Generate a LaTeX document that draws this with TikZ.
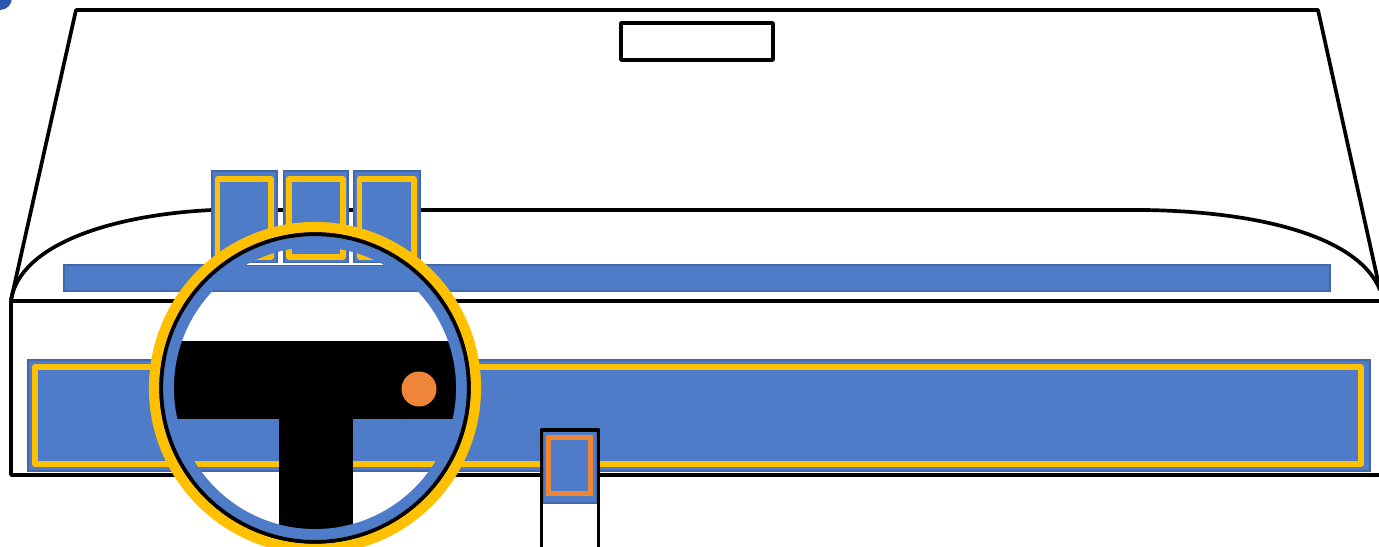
\documentclass[tikz,border=0pt]{standalone}
\usepackage{xcolor}
\definecolor{dashBlue}{RGB}{78, 124, 201}
\definecolor{dashEdge}{RGB}{66, 104, 170}
\definecolor{dashYellow}{RGB}{255, 192, 0}
\definecolor{dashOrange}{RGB}{238, 133, 56}
\definecolor{dashCorner}{RGB}{43, 87, 176}
\begin{document}
\begin{tikzpicture}[x=0.02cm, y=-0.02cm,
          outline/.style={draw=black, line width=2.1pt, line join=round},
          panel/.style={draw=dashEdge, line width=0.6pt, fill=dashBlue},
          trim/.style={draw=dashYellow, line width=2.9pt, line join=round},
          trimo/.style={draw=dashOrange, line width=2.9pt}]
        \clip (0,0) rectangle (1379,547);
        \fill[white] (0,0) rectangle (1379,547);
        \fill[dashCorner] (0,-2) circle (12);
        \draw[outline] (11,300) -- (76,10) -- (1318,10) -- (1380,290);
        \draw[outline] (621,23) rectangle (773,60);
        \draw[outline] (11,300) .. controls (20,245) and (110,215) .. (212,210)
                       -- (1145,210) .. controls (1270,212) and (1360,240) .. (1380,290);
        \draw[outline] (1380,301) -- (11,301) -- (11,475) -- (1380,475);
        \draw[panel] (64,265) rectangle (1330,291);
        \draw[panel] (212,171) rectangle (277,263);
        \draw[panel] (284,171) rectangle (348,263);
        \draw[panel] (354,171) rectangle (420,263);
        \draw[trim] (217.5,179) rectangle (271,257);
        \draw[trim] (289,179) rectangle (343,257);
        \draw[trim] (359.5,179) rectangle (414,257);
        \draw[panel] (28,360) rectangle (1370,471);
        \draw[trim] (35,367) rectangle (1361,464);
        \fill[white] (542,430) rectangle (598,547);
        \draw[panel] (543,431) rectangle (597,503);
        \draw[trimo] (548.5,437.5) rectangle (590.5,493.5);
        \draw[outline] (541.5,547) -- (541.5,430) -- (598.5,430) -- (598.5,547);
        \begin{scope}
          \clip (315,388) circle (150);
          \draw[white, line width=0.9pt] (150,264) -- (480,264);
          \fill[white] (150,292) rectangle (480,360);
          \fill[white] (150,472) rectangle (480,547);
          \fill[black] (150,341) rectangle (480,418.5);
          \fill[black] (279,418) rectangle (353,547);
        \end{scope}
        \fill[dashOrange] (419,389) circle (17.5);
        \draw[dashBlue, line width=6.2pt] (315,388) circle (146.5);
        \draw[black, line width=2.4pt] (315,388) circle (154);
        \draw[dashYellow, line width=5.8pt] (315,388) circle (161);
      \end{tikzpicture}
\end{document}
